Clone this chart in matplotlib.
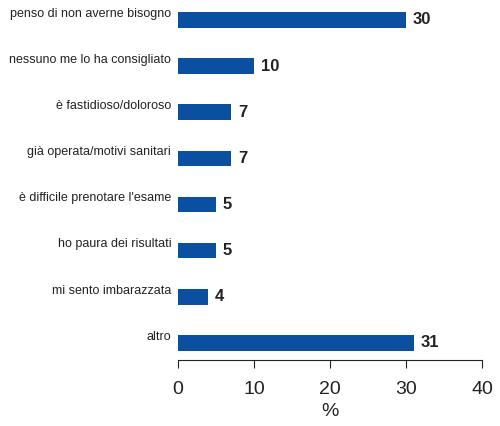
import matplotlib

matplotlib.use("Agg")
import matplotlib.pyplot as plt

categories = [
    "penso di non averne bisogno",
    "nessuno me lo ha consigliato",
    "è fastidioso/doloroso",
    "già operata/motivi sanitari",
    "è difficile prenotare l'esame",
    "ho paura dei risultati",
    "mi sento imbarazzata",
    "altro",
]
values = [30, 10, 7, 7, 5, 5, 4, 31]
x_ticks = [0, 10, 20, 30, 40]

plt.rcParams["font.family"] = ["Liberation Sans", "DejaVu Sans"]

fig = plt.figure(figsize=(5.0, 4.26), dpi=100)
ax = fig.add_axes([0.356, 0.155, 0.608, 0.845])

pos = list(range(len(categories)))
ax.barh(pos, values, height=0.34, color="#0B4FA1")

for y, v, name in zip(pos, values, categories):
    ax.text(v + 0.9, y, f"{v}", va="center", ha="left",
            fontsize=12, fontweight="bold", color="#222222")
    ax.text(-0.9, y - 0.07, name, va="baseline", ha="right",
            fontsize=9, color="#222222")

ax.set_xlim(0, 40)
ax.set_ylim(7.37, -0.433)
ax.set_xticks(x_ticks)
ax.set_xticklabels([str(t) for t in x_ticks], fontsize=14, color="#222222")
ax.set_yticks([])
ax.set_xlabel("%", fontsize=14, color="#222222", labelpad=4)

for side in ("top", "right", "left"):
    ax.spines[side].set_visible(False)
ax.spines["bottom"].set_color("#222222")
ax.tick_params(axis="x", direction="out", length=6, color="#222222", pad=9)

fig.savefig("out.png", dpi=100)
